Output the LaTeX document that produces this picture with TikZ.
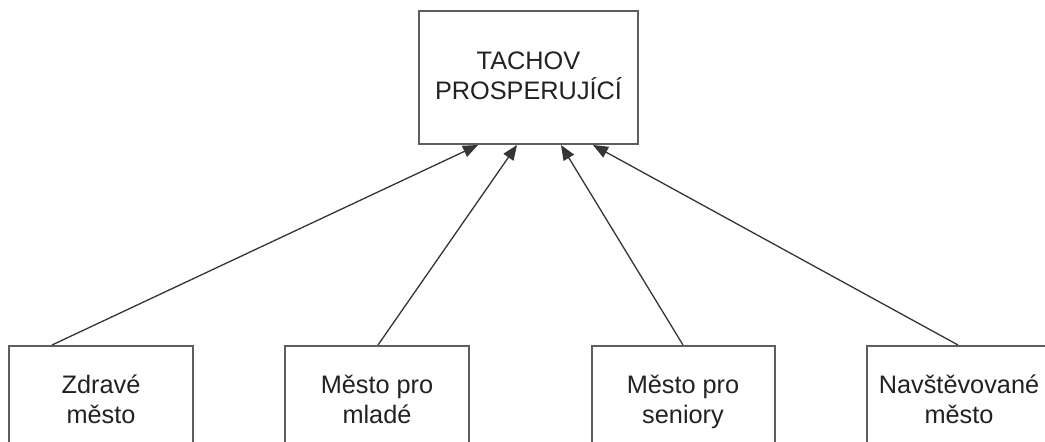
\documentclass[tikz,border=0pt]{standalone}
\usepackage{fontspec}
\setmainfont{Liberation Sans}
\usetikzlibrary{arrows.meta}
\definecolor{boxline}{HTML}{5E5E5E}
\definecolor{txt}{HTML}{222222}
\definecolor{arr}{HTML}{353535}
\begin{document}
\begin{tikzpicture}[x=1pt,y=-1pt,
  box/.style={draw=boxline,line width=2pt,fill=white,inner sep=0pt,align=center,
    text=txt,font=\fontsize{25.3}{30}\selectfont,text depth=0pt},
  conn/.style={draw=arr,line width=1.3pt,-{Triangle[length=15pt,width=12pt]}}]
\useasboundingbox (0,0) rectangle (1045,442);
\clip (0,0) rectangle (1045,442);
\fill[white] (0,0) rectangle (1045,442);
\node[box,minimum width=219pt,minimum height=133pt,text height=48pt,text depth=4pt] (top) at (528.5,77.5) {TACHOV\\PROSPERUJÍCÍ};
\node[box,minimum width=184pt,minimum height=107pt,text height=47pt,anchor=north] (b1) at (101,345) {Zdravé\\město};
\node[box,minimum width=184pt,minimum height=107pt,text height=47pt,anchor=north] (b2) at (377,345) {Město pro\\mladé};
\node[box,minimum width=183pt,minimum height=107pt,text height=47pt,anchor=north] (b3) at (683,345) {Město pro\\seniory};
\node[box,minimum width=184pt,minimum height=107pt,text height=47pt,anchor=north] (b4) at (959,345) {Navštěvované\\město};
\draw[conn] ([xshift=44pt]b1.north west) -- ([xshift=-50.5pt]top.south);
\draw[conn] ([xshift=1pt]b2.north) -- ([xshift=-11.5pt]top.south);
\draw[conn] (b3.north) -- ([xshift=32.5pt]top.south);
\draw[conn] ([xshift=-1pt]b4.north) -- ([xshift=64.5pt]top.south);
\end{tikzpicture}
\end{document}
